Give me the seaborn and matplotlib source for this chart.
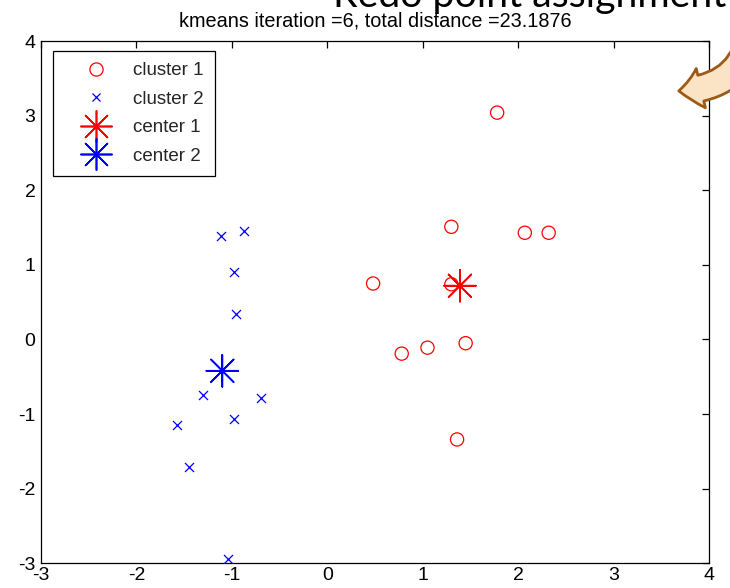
import numpy as np
import pandas as pd
import seaborn as sns
import matplotlib
matplotlib.use("Agg")
import matplotlib.pyplot as plt
from matplotlib.lines import Line2D
from matplotlib.patches import FancyArrowPatch
from matplotlib.legend_handler import HandlerTuple

# ---- data ----
cluster1_x = [1.78, 1.30, 2.07, 2.32, 0.48, 1.30, 1.45, 1.05, 0.78, 1.36]
cluster1_y = [3.04, 1.51, 1.43, 1.43, 0.75, 0.74, -0.05, -0.11, -0.19, -1.34]
cluster2_x = [-1.11, -0.87, -0.98, -0.96, -1.30, -0.69, -0.98, -1.57, -1.45, -1.04]
cluster2_y = [1.39, 1.45, 0.90, 0.34, -0.74, -0.79, -1.06, -1.14, -1.71, -2.94]
center1 = [1.39, 0.72]
center2 = [-1.10, -0.42]
x_ticks = [-3, -2, -1, 0, 1, 2, 3, 4]
y_ticks = [-3, -2, -1, 0, 1, 2, 3, 4]
title_text = "kmeans iteration =6, total distance =23.1876"
overlay_text = "Redo point assignment"
legend_labels = ["cluster 1", "cluster 2", "center 1", "center 2"]

c1 = pd.DataFrame({"x": cluster1_x, "y": cluster1_y})
c2 = pd.DataFrame({"x": cluster2_x, "y": cluster2_y})
ctr = pd.DataFrame({"x": [center1[0], center2[0]], "y": [center1[1], center2[1]],
                    "c": ["center 1", "center 2"]})

sns.set_theme(style="white")
plt.rcParams["font.family"] = ["Liberation Sans", "DejaVu Sans"]

W, H = 730, 588
fig = plt.figure(figsize=(W / 100, H / 100), dpi=100)
fig.patch.set_facecolor("white")
ax = fig.add_axes([41 / W, 1 - 563.3 / H, (709 - 41) / W, (563.3 - 41) / H])
ax.set_facecolor("white")

RED = "#ff0000"
BLUE = "#0000ff"
ast = (8, 2, 0)

sns.scatterplot(data=c1, x="x", y="y", ax=ax, marker="o", s=9.5 ** 2,
                facecolors="none", edgecolor=RED, linewidth=0.9, legend=False, zorder=3)
sns.scatterplot(data=c2, x="x", y="y", ax=ax, marker="x", s=6.5 ** 2,
                color=BLUE, linewidth=0.9, legend=False, zorder=3)
sns.scatterplot(data=ctr, x="x", y="y", hue="c", palette=[RED, BLUE], ax=ax,
                marker=ast, s=23 ** 2, linewidth=1.2, legend=False, zorder=4)
sns.scatterplot(data=ctr, x="x", y="y", hue="c", palette=[RED, BLUE], ax=ax,
                marker="o", s=3.5 ** 2, linewidth=0, legend=False, zorder=5)

ax.set_xlim(x_ticks[0], x_ticks[-1])
ax.set_ylim(y_ticks[0], y_ticks[-1])
ax.set_xticks(x_ticks)
ax.set_yticks(y_ticks)
ax.set_xticklabels([str(t) for t in x_ticks])
ax.set_yticklabels([str(t) for t in y_ticks])
ax.set_xlabel("")
ax.set_ylabel("")
ax.tick_params(axis="both", which="both", direction="in", length=5, width=0.9,
               top=True, right=True, labelsize=14, colors="black", pad=3)
ax.tick_params(axis="y", pad=4)
for s in ax.spines.values():
    s.set_visible(True)
    s.set_color("black")
    s.set_linewidth(0.9)

ax.set_title(title_text, fontsize=14.3, pad=10.5, color="black")

# legend
h1 = Line2D([], [], linestyle="none", marker="o", markersize=9.5, markerfacecolor="none",
            markeredgecolor=RED, markeredgewidth=0.9)
h2 = Line2D([], [], linestyle="none", marker="x", markersize=6, color=BLUE, markeredgewidth=0.9)
h3a = Line2D([], [], linestyle="none", marker=ast, markersize=23, color=RED, markeredgewidth=1.2)
h3b = Line2D([], [], linestyle="none", marker="o", markersize=3.5, color=RED, markeredgewidth=0)
h4a = Line2D([], [], linestyle="none", marker=ast, markersize=23, color=BLUE, markeredgewidth=1.2)
h4b = Line2D([], [], linestyle="none", marker="o", markersize=3.5, color=BLUE, markeredgewidth=0)
leg = ax.legend([h1, h2, (h3a, h3b), (h4a, h4b)], legend_labels,
                handler_map={tuple: HandlerTuple(ndivide=1, pad=0)},
                loc="upper left", bbox_to_anchor=(0.0175, 0.9814), borderaxespad=0,
                fontsize=13.5, frameon=True, fancybox=False, shadow=False,
                handlelength=3.4, handletextpad=0.25, labelspacing=0.6, borderpad=0.62,
                framealpha=1)
leg.get_frame().set_edgecolor("black")
leg.get_frame().set_linewidth(0.9)
leg.set_zorder(10)

# overlay text (clipped at top) and curved arrow
fig.text(333 / W, 1 - 7 / H, overlay_text, fontsize=28.3, family=["Lato", "DejaVu Sans"],
         color="black", ha="left", va="baseline")

arrow = FancyArrowPatch(posA=(752 / W, 1 - 12 / H), posB=(676 / W, 1 - 91 / H),
                        transform=fig.transFigure,
                        arrowstyle="simple,head_width=29,head_length=16,tail_width=19",
                        connectionstyle="arc3,rad=-0.5",
                        facecolor="#fbe4c6", edgecolor="#9c5a14", linewidth=2.0,
                        zorder=20, clip_on=False)
fig.patches.append(arrow)

fig.savefig("out.png", dpi=100, facecolor="white")
